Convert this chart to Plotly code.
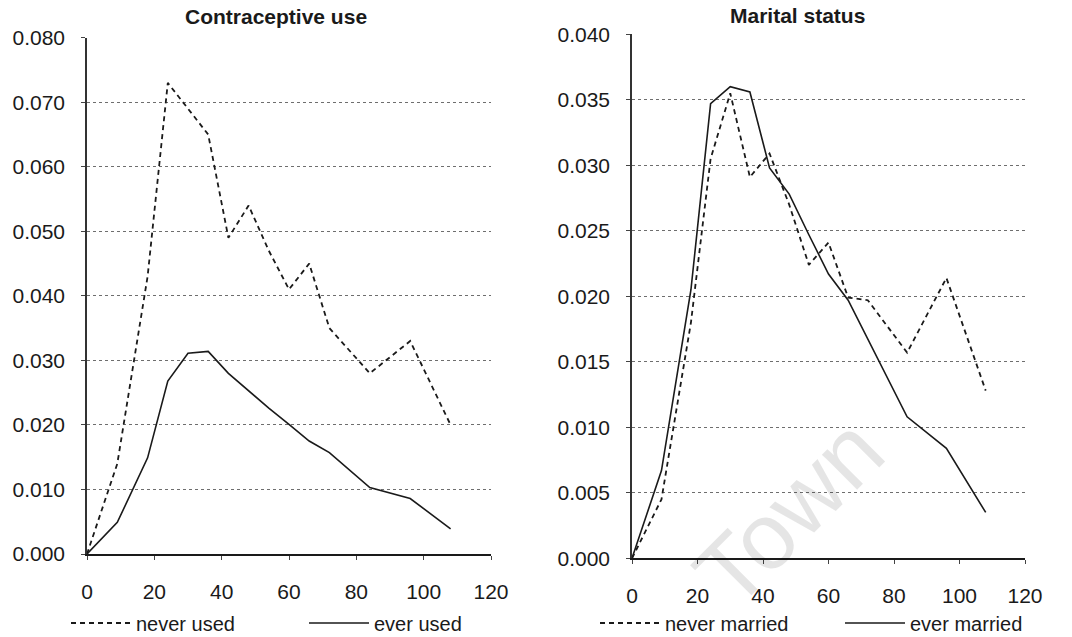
import plotly.graph_objects as go

# Age (months) at which densities are evaluated
months = [0, 9, 18, 24, 30, 36, 42, 48, 54, 60, 66, 72, 84, 96, 108]

# Contraceptive use
never_used = [0.000, 0.014, 0.043, 0.073, 0.069, 0.065, 0.049, 0.054, 0.047,
              0.041, 0.045, 0.035, 0.028, 0.033, 0.020]
ever_used = [0.000, 0.0049, 0.0149, 0.0268, 0.0311, 0.0314, 0.0280, 0.0253, 0.0226,
             0.0201, 0.0175, 0.0157, 0.0103, 0.0086, 0.0039]

# Marital status
never_married = [0.000, 0.0045, 0.0180, 0.0305, 0.0355, 0.0291, 0.0309, 0.0270, 0.0224,
                 0.0241, 0.0199, 0.0197, 0.0157, 0.0214, 0.0128]
ever_married = [0.000, 0.0067, 0.0205, 0.0347, 0.0360, 0.0356, 0.0298, 0.0278, 0.0247,
                0.0217, 0.0197, 0.0167, 0.0108, 0.0084, 0.0035]

x_ticks = [0, 20, 40, 60, 80, 100, 120]

W, H = 1072, 637
FONT = "Liberation Sans, Arial, sans-serif"
INK = "#1a1a1a"
DASH = "5px,4px"

fig = go.Figure()

fig.add_trace(go.Scatter(x=months, y=never_used, name="never used", mode="lines",
                         line=dict(color=INK, width=1.8, dash=DASH),
                         xaxis="x", yaxis="y", legend="legend"))
fig.add_trace(go.Scatter(x=months, y=ever_used, name="ever used", mode="lines",
                         line=dict(color=INK, width=1.6),
                         xaxis="x", yaxis="y", legend="legend"))
fig.add_trace(go.Scatter(x=months, y=never_married, name="never married", mode="lines",
                         line=dict(color=INK, width=1.8, dash=DASH),
                         xaxis="x2", yaxis="y2", legend="legend2"))
fig.add_trace(go.Scatter(x=months, y=ever_married, name="ever married", mode="lines",
                         line=dict(color=INK, width=1.6),
                         xaxis="x2", yaxis="y2", legend="legend2"))


def px_x(p):
    return p / W


def px_y(p):
    return 1 - p / H


xcommon = dict(range=[0, 120], tickvals=x_ticks, showgrid=False, zeroline=False,
               automargin=False,
               showline=True, linecolor=INK, linewidth=1.6,
               ticks="outside", ticklen=4, tickcolor="#444", tickwidth=1,
               ticklabelstandoff=14,
               tickfont=dict(family=FONT, size=21, color=INK))
ycommon = dict(showgrid=True, gridcolor="#6e6e6e", gridwidth=1, griddash="dot",
               zeroline=False, automargin=False,
               showline=True, linecolor="#333", linewidth=1.5,
               ticks="outside", ticklen=4, tickcolor="#444", tickwidth=1,
               tickformat=".3f", ticklabelstandoff=12,
               tickfont=dict(family=FONT, size=21, color=INK))

fig.update_layout(
    width=W, height=H,
    margin=dict(l=0, r=0, t=0, b=0, autoexpand=False),
    paper_bgcolor="white", plot_bgcolor="white",
    font=dict(family=FONT, color=INK),
    xaxis=dict(domain=[px_x(87), px_x(491)], anchor="y", **xcommon),
    yaxis=dict(domain=[px_y(554), px_y(37.7)], anchor="x",
               range=[0, 0.08], dtick=0.01, **ycommon),
    xaxis2=dict(domain=[px_x(632), px_x(1025)], anchor="y2", **xcommon),
    yaxis2=dict(domain=[px_y(558.3), px_y(34.3)], anchor="x2",
                range=[0, 0.04], dtick=0.005, **ycommon),
    legend=dict(orientation="h", x=px_x(66), y=px_y(623), xanchor="left", yanchor="middle",
                entrywidth=163, itemwidth=60, bgcolor="rgba(0,0,0,0)",
                font=dict(family=FONT, size=20, color=INK)),
    legend2=dict(orientation="h", x=px_x(595), y=px_y(623), xanchor="left", yanchor="middle",
                 entrywidth=170, itemwidth=60, bgcolor="rgba(0,0,0,0)",
                 font=dict(family=FONT, size=20, color=INK)),
    annotations=[
        dict(text="<b>Contraceptive use</b>", x=px_x(276), y=px_y(17), xref="paper", yref="paper",
             showarrow=False, xanchor="center", yanchor="middle",
             font=dict(family=FONT, size=21, color=INK)),
        dict(text="<b>Marital status</b>", x=px_x(797), y=px_y(15), xref="paper", yref="paper",
             showarrow=False, xanchor="center", yanchor="middle",
             font=dict(family=FONT, size=21, color=INK)),
        # faint institutional watermark across the lower right panel
        dict(text="Town", x=px_x(788), y=px_y(512), xref="paper", yref="paper",
             showarrow=False, xanchor="center", yanchor="middle", textangle=-45,
             font=dict(family=FONT, size=94, color="rgba(0,0,0,0.10)")),
    ],
)

fig.write_html("out.html")
